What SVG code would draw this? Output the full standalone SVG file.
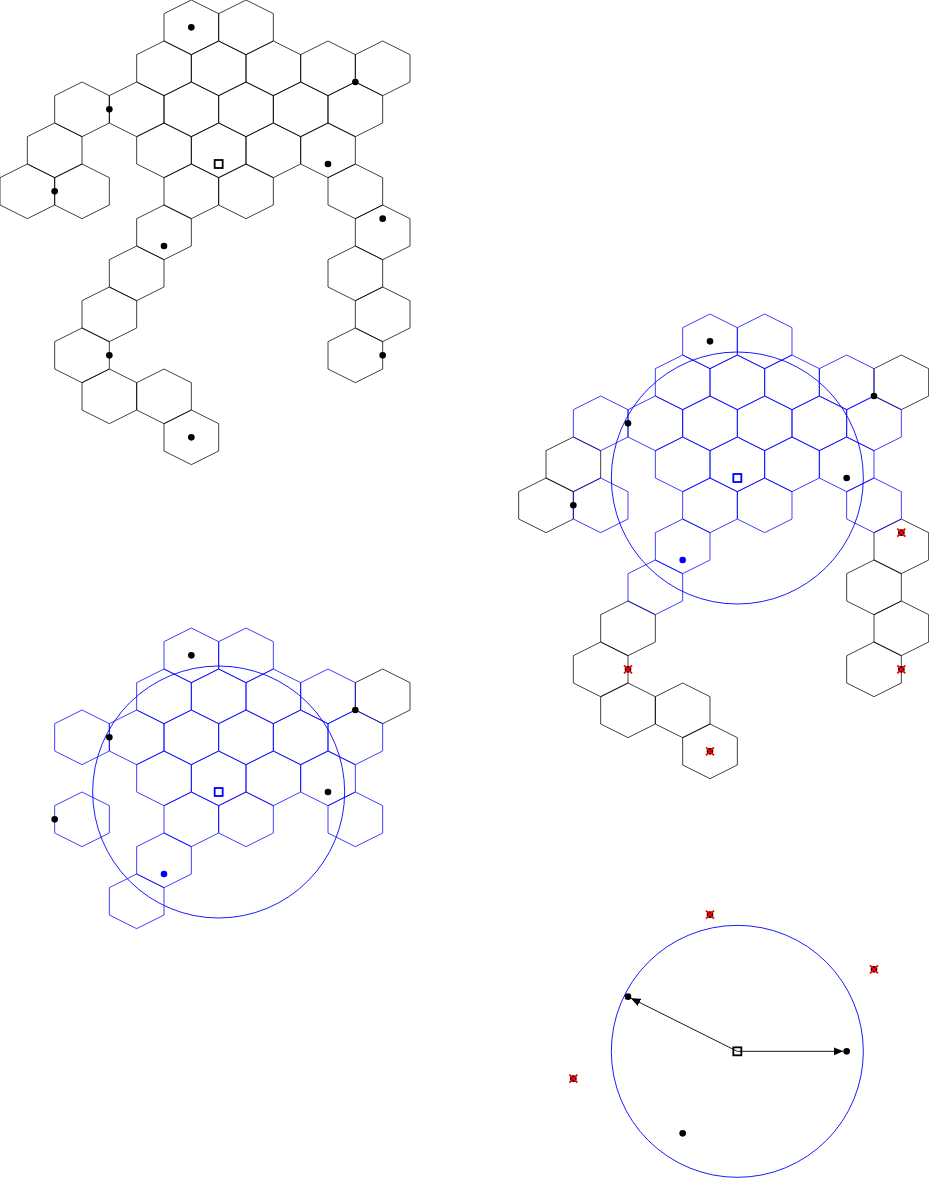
<svg xmlns="http://www.w3.org/2000/svg" xmlns:xlink="http://www.w3.org/1999/xlink" width="929" height="1179" viewBox="0 0 929 1179">
<style>
.hk{fill:none;stroke:#000;stroke-width:0.75}
.hb{fill:none;stroke:#00f;stroke-width:0.75}
.dk{fill:#000}
.db{fill:#00f}
.qk{fill:none;stroke:#000;stroke-width:1.8}
.qb{fill:none;stroke:#00f;stroke-width:1.8}
.cir{fill:none;stroke:#00f;stroke-width:0.9}
.xr{stroke:#f00;stroke-width:1.8}
.arr{stroke:#000;stroke-width:0.9;fill:none}
</style>
<defs>
<path id="hx" d="M0,-27.333 L27.333,-13.667 L27.333,13.667 L0,27.333 L-27.333,13.667 L-27.333,-13.667 Z"/>
<g id="xm"><circle r="3.3" fill="#000"/><path class="xr" d="M-4,-4 L4,4 M-4,4 L4,-4"/></g>
<marker id="ah" markerUnits="userSpaceOnUse" markerWidth="11" markerHeight="9" refX="9.5" refY="4" orient="auto">
<path d="M0,0 L9.5,4 L0,8 Z" fill="#000"/>
</marker>
</defs>

<!-- Panel 1: full grid -->
<g id="panel1">
<g id="p1-hexes" class="hk">
<use href="#hx" x="191.333" y="27.333"/><use href="#hx" x="246" y="27.333"/>
<use href="#hx" x="164" y="68.333"/><use href="#hx" x="218.667" y="68.333"/><use href="#hx" x="273.333" y="68.333"/><use href="#hx" x="328" y="68.333"/><use href="#hx" x="382.667" y="68.333"/>
<use href="#hx" x="82" y="109.333"/><use href="#hx" x="136.667" y="109.333"/><use href="#hx" x="191.333" y="109.333"/><use href="#hx" x="246" y="109.333"/><use href="#hx" x="300.667" y="109.333"/><use href="#hx" x="355.333" y="109.333"/>
<use href="#hx" x="54.667" y="150.333"/><use href="#hx" x="164" y="150.333"/><use href="#hx" x="218.667" y="150.333"/><use href="#hx" x="273.333" y="150.333"/><use href="#hx" x="328" y="150.333"/>
<use href="#hx" x="27.333" y="191.333"/><use href="#hx" x="82" y="191.333"/><use href="#hx" x="191.333" y="191.333"/><use href="#hx" x="246" y="191.333"/><use href="#hx" x="355.333" y="191.333"/>
<use href="#hx" x="164" y="232.333"/><use href="#hx" x="382.667" y="232.333"/>
<use href="#hx" x="136.667" y="273.333"/><use href="#hx" x="355.333" y="273.333"/>
<use href="#hx" x="109.333" y="314.333"/><use href="#hx" x="382.667" y="314.333"/>
<use href="#hx" x="82" y="355.333"/><use href="#hx" x="355.333" y="355.333"/>
<use href="#hx" x="109.333" y="396.333"/><use href="#hx" x="164" y="396.333"/>
<use href="#hx" x="191.333" y="437.333"/>
</g>
<g id="p1-points" class="dk">
<circle cx="191.333" cy="27.333" r="3.3"/><circle cx="355.333" cy="82" r="3.3"/><circle cx="109.333" cy="109.333" r="3.3"/><circle cx="328" cy="164" r="3.3"/><circle cx="54.667" cy="191.333" r="3.3"/><circle cx="164" cy="246" r="3.3"/><circle cx="382.667" cy="218.667" r="3.3"/><circle cx="109.333" cy="355.333" r="3.3"/><circle cx="382.667" cy="355.333" r="3.3"/><circle cx="191.333" cy="437.333" r="3.3"/>
</g>
<rect id="p1-query" class="qk" x="214.667" y="160" width="8" height="8"/>
</g>

<!-- Panel 2: candidate cells and search circle -->
<g id="panel2" transform="translate(518.667,314)">
<g id="p2-hexes-out" class="hk">
<use href="#hx" x="382.667" y="68.333"/>
<use href="#hx" x="54.667" y="150.333"/>
<use href="#hx" x="27.333" y="191.333"/>
<use href="#hx" x="382.667" y="232.333"/>
<use href="#hx" x="355.333" y="273.333"/>
<use href="#hx" x="109.333" y="314.333"/><use href="#hx" x="382.667" y="314.333"/>
<use href="#hx" x="82" y="355.333"/><use href="#hx" x="355.333" y="355.333"/>
<use href="#hx" x="109.333" y="396.333"/><use href="#hx" x="164" y="396.333"/>
<use href="#hx" x="191.333" y="437.333"/>
</g>
<g id="p2-hexes-in" class="hb">
<use href="#hx" x="191.333" y="27.333"/><use href="#hx" x="246" y="27.333"/>
<use href="#hx" x="164" y="68.333"/><use href="#hx" x="218.667" y="68.333"/><use href="#hx" x="273.333" y="68.333"/><use href="#hx" x="328" y="68.333"/>
<use href="#hx" x="82" y="109.333"/><use href="#hx" x="136.667" y="109.333"/><use href="#hx" x="191.333" y="109.333"/><use href="#hx" x="246" y="109.333"/><use href="#hx" x="300.667" y="109.333"/><use href="#hx" x="355.333" y="109.333"/>
<use href="#hx" x="164" y="150.333"/><use href="#hx" x="218.667" y="150.333"/><use href="#hx" x="273.333" y="150.333"/><use href="#hx" x="328" y="150.333"/>
<use href="#hx" x="82" y="191.333"/><use href="#hx" x="191.333" y="191.333"/><use href="#hx" x="246" y="191.333"/><use href="#hx" x="355.333" y="191.333"/>
<use href="#hx" x="164" y="232.333"/>
<use href="#hx" x="136.667" y="273.333"/>
</g>
<circle id="p2-circle" class="cir" cx="218.667" cy="164" r="126"/>
<g id="p2-points" class="dk">
<circle cx="191.333" cy="27.333" r="3.3"/><circle cx="355.333" cy="82" r="3.3"/><circle cx="109.333" cy="109.333" r="3.3"/><circle cx="328" cy="164" r="3.3"/><circle cx="54.667" cy="191.333" r="3.3"/>
</g>
<circle class="db" cx="164" cy="246" r="3.3"/>
<g id="p2-rejected">
<use href="#xm" x="382.667" y="218.667"/><use href="#xm" x="109.333" y="355.333"/><use href="#xm" x="382.667" y="355.333"/><use href="#xm" x="191.333" y="437.333"/>
</g>
<rect id="p2-query" class="qb" x="214.667" y="160" width="8" height="8"/>
</g>

<!-- Panel 3: cells near the circle -->
<g id="panel3" transform="translate(0,628)">
<g id="p3-hexes-out" class="hk">
<use href="#hx" x="382.667" y="68.333"/>
</g>
<g id="p3-hexes-in" class="hb">
<use href="#hx" x="191.333" y="27.333"/><use href="#hx" x="246" y="27.333"/>
<use href="#hx" x="164" y="68.333"/><use href="#hx" x="218.667" y="68.333"/><use href="#hx" x="273.333" y="68.333"/><use href="#hx" x="328" y="68.333"/>
<use href="#hx" x="82" y="109.333"/><use href="#hx" x="136.667" y="109.333"/><use href="#hx" x="191.333" y="109.333"/><use href="#hx" x="246" y="109.333"/><use href="#hx" x="300.667" y="109.333"/><use href="#hx" x="355.333" y="109.333"/>
<use href="#hx" x="164" y="150.333"/><use href="#hx" x="218.667" y="150.333"/><use href="#hx" x="273.333" y="150.333"/><use href="#hx" x="328" y="150.333"/>
<use href="#hx" x="82" y="191.333"/><use href="#hx" x="191.333" y="191.333"/><use href="#hx" x="246" y="191.333"/><use href="#hx" x="355.333" y="191.333"/>
<use href="#hx" x="164" y="232.333"/>
<use href="#hx" x="136.667" y="273.333"/>
</g>
<circle id="p3-circle" class="cir" cx="218.667" cy="164" r="126"/>
<g id="p3-points" class="dk">
<circle cx="191.333" cy="27.333" r="3.3"/><circle cx="355.333" cy="82" r="3.3"/><circle cx="109.333" cy="109.333" r="3.3"/><circle cx="328" cy="164" r="3.3"/><circle cx="54.667" cy="191.333" r="3.3"/>
</g>
<circle class="db" cx="164" cy="246" r="3.3"/>
<rect id="p3-query" class="qb" x="214.667" y="160" width="8" height="8"/>
</g>

<!-- Panel 4: result -->
<g id="panel4" transform="translate(518.667,887.333)">
<circle id="p4-circle" class="cir" cx="218.667" cy="164" r="126"/>
<g id="p4-rejected">
<use href="#xm" x="191.333" y="27.333"/><use href="#xm" x="355.333" y="82"/><use href="#xm" x="54.667" y="191.333"/>
</g>
<g id="p4-connectors">
<line class="arr" x1="218.667" y1="164" x2="324.7" y2="164" marker-end="url(#ah)"/>
<line class="arr" x1="218.667" y1="164" x2="112.28" y2="110.81" marker-end="url(#ah)"/>
</g>
<g id="p4-points" class="dk">
<circle cx="109.333" cy="109.333" r="3.3"/><circle cx="328" cy="164" r="3.3"/><circle cx="164" cy="246" r="3.3"/>
</g>
<rect id="p4-query" class="qk" x="214.667" y="160" width="8" height="8"/>
</g>
</svg>
